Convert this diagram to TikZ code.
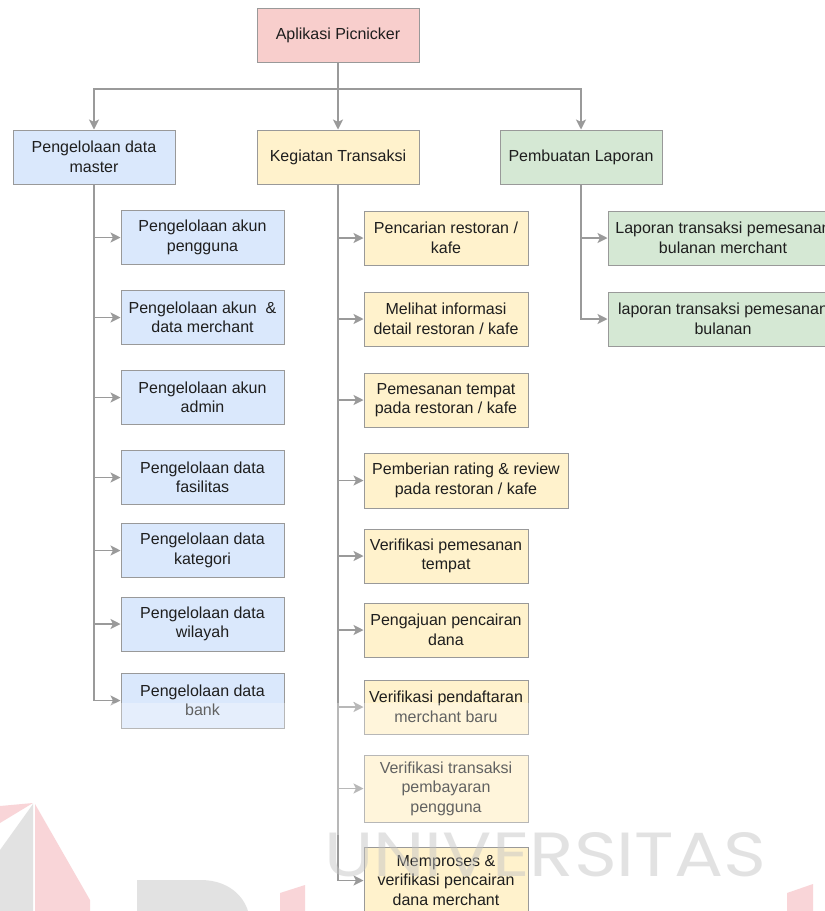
\documentclass[tikz,border=0pt]{standalone}
\usepackage{fontspec}
\setmainfont{Liberation Sans}
\newfontfamily\wmfont{Poppins}
\usetikzlibrary{arrows.meta}

\definecolor{edgegray}{HTML}{999999}
\definecolor{linegray}{HTML}{9A9A9A}
\definecolor{txt}{HTML}{1E1E1E}
\definecolor{rootfill}{HTML}{F8CECC}
\definecolor{bluefill}{HTML}{DAE8FC}
\definecolor{yellowfill}{HTML}{FFF2CC}
\definecolor{greenfill}{HTML}{D5E8D4}
\definecolor{wmgray}{HTML}{C4C4C4}
\definecolor{wmred}{HTML}{F3A9AF}

\tikzset{
  box/.style={draw=edgegray, line width=1pt, inner sep=0pt, align=center,
    text=txt, font=\fontsize{16}{19.5}\selectfont,
    minimum width=162pt, minimum height=54pt},
  rootbox/.style={box, fill=rootfill},
  masterbox/.style={box, fill=bluefill},
  transbox/.style={box, fill=yellowfill, minimum width=164pt},
  reportbox/.style={box, fill=greenfill},
  arr/.style={draw=linegray, line width=1.3pt,
    -{Stealth[length=10pt, width=10pt, inset=2.5pt]}},
}

\begin{document}
\begin{tikzpicture}[x=1pt, y=-1pt]
\useasboundingbox (0,0) rectangle (825,911);
\clip (0,0) rectangle (825,911);
\fill[white] (0,0) rectangle (825,911);

% top level
\node[rootbox] (root) at (338,35.7) {Aplikasi Picnicker};

% second level
\node[masterbox] (pd) at (94,157) {Pengelolaan data\\master};
\node[transbox, minimum width=162pt] (kt) at (338,157) {Kegiatan Transaksi};
\node[reportbox] (pl) at (581,157) {Pembuatan Laporan};

\coordinate (bus) at (338,89);
\draw[arr] (root.south) -- (kt.north);
\draw[arr] (bus) -| (pd.north);
\draw[arr] (bus) -| (pl.north);

% master data management
\node[masterbox, minimum width=163pt] (m1) at (202.5,237.5) {Pengelolaan akun\\pengguna};
\node[masterbox, minimum width=163pt] (m2) at (202.5,317.5) {Pengelolaan akun \ \&\\data merchant};
\node[masterbox, minimum width=163pt] (m3) at (202.5,397.5) {Pengelolaan akun\\admin};
\node[masterbox, minimum width=163pt] (m4) at (202.5,477.5) {Pengelolaan data\\fasilitas};
\node[masterbox, minimum width=163pt] (m5) at (202.5,550.5) {Pengelolaan data\\kategori};
\node[masterbox, minimum width=163pt] (m6) at (202.5,624) {Pengelolaan data\\wilayah};
\node[masterbox, minimum width=163pt, minimum height=55pt] (m7) at (202.5,700.5) {Pengelolaan data\\bank};

\foreach \n in {m1,m2,m3,m4,m5,m6,m7}
  \draw[arr] (pd.south) |- (\n.west);

% transaction activities
\node[transbox] (t1) at (446,238) {Pencarian restoran /\\kafe};
\node[transbox] (t2) at (446,319) {Melihat informasi\\detail restoran / kafe};
\node[transbox] (t3) at (446,400) {Pemesanan tempat\\pada restoran / kafe};
\node[transbox, minimum width=204pt, minimum height=55pt] (t4) at (466,480.5) {Pemberian rating \& review\\pada restoran / kafe};
\node[transbox] (t5) at (446,556) {Verifikasi pemesanan\\tempat};
\node[transbox] (t6) at (446,630) {Pengajuan pencairan\\dana};
\node[transbox] (t7) at (446,707) {Verifikasi pendaftaran\\merchant baru};
\node[transbox, minimum height=67pt] (t8) at (446,788.5) {Verifikasi transaksi\\pembayaran\\pengguna};
\node[transbox, minimum height=67pt] (t9) at (446,880.5) {Memproses \&\\verifikasi pencairan\\dana merchant};

\foreach \n in {t1,t2,t3,t4,t5,t6,t7,t8,t9}
  \draw[arr] (kt.south) |- (\n.west);

% reports
\node[reportbox, minimum width=230pt] (r1) at (723,238) {Laporan transaksi pemesanan\\bulanan merchant};
\node[reportbox, minimum width=230pt] (r2) at (723,319) {laporan transaksi pemesanan\\bulanan};

\foreach \n in {r1,r2}
  \draw[arr] (pl.south) |- (\n.west);

% faded band across the lower part
\fill[white, opacity=0.3] (0,703) rectangle (825,835);

% repository watermark
\begin{scope}[opacity=0.48]
  \fill[wmred] (0,806) -- (33,803) -- (0,823) -- cycle;
  \fill[wmgray] (33,804) -- (33,911) -- (0,911) -- (0,850) -- cycle;
  \fill[wmred] (35,804) -- (90,900) -- (90,911) -- (35,911) -- cycle;
  \fill[wmgray] (137,911) -- (137,880) -- (203,880)
    .. controls (228,881) and (243,895) .. (248,911) -- cycle;
  \fill[wmred] (280,893) -- (305,885) -- (305,911) -- (280,911) -- cycle;
  \fill[wmred] (787,893) -- (813,884) -- (813,911) -- (787,911) -- cycle;
  \node[anchor=south west, inner sep=0pt, text=wmgray] (wm) at (324,877)
    {\resizebox{442pt}{44pt}{\wmfont UNIVERSITAS}};
\end{scope}
\end{tikzpicture}
\end{document}
